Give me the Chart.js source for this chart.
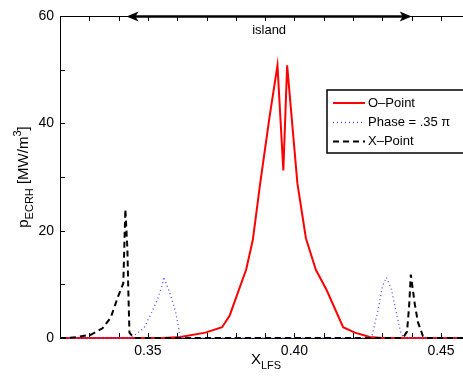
<!DOCTYPE html>
<html>
<head>
<meta charset="utf-8">
<script src="https://cdn.jsdelivr.net/npm/chart.js@4/dist/chart.umd.min.js"></script>
<style>
  html, body { margin: 0; padding: 0; background: #fff; }
  #wrap { width: 463px; height: 380px; position: relative; }
</style>
</head>
<body>
<div id="wrap"><canvas id="chart" width="463" height="380"></canvas></div>
<script>
// O-Point (red solid)
const oPointX = [0.320, 0.355, 0.3611, 0.3696, 0.3753, 0.3779, 0.3806, 0.3835, 0.3858, 0.3883, 0.3915, 0.3942, 0.3962, 0.3975, 0.4010, 0.4039, 0.4073, 0.4110, 0.4166, 0.4206, 0.4257, 0.4300, 0.4575];
const oPointY = [0, 0, 0.2, 1.0, 2.0, 4.2, 8.3, 12.7, 18.3, 28.8, 41.2, 50.8, 31.2, 50.8, 28.8, 18.6, 12.7, 8.9, 2.0, 1.0, 0.2, 0, 0];

// Phase = .35 pi (blue dotted)
const phaseX = [0.320, 0.3441, 0.3486, 0.3509, 0.3532, 0.3549, 0.3554, 0.3575, 0.3594, 0.3605, 0.3611, 0.4263, 0.4285, 0.4300, 0.4314, 0.4331, 0.4348, 0.4362, 0.4371, 0.4575];
const phaseY = [0, 0, 1.8, 4.3, 7.1, 9.9, 11.4, 8.3, 5.0, 1.8, 0, 0, 5.2, 9.6, 11.3, 9.0, 4.6, 1.2, 0, 0];

// X-Point (black dashed)
const xPointX = [0.320, 0.323, 0.3260, 0.3305, 0.3345, 0.3373, 0.3398, 0.3416, 0.3423, 0.3430, 0.3433, 0.3437, 0.3452, 0.4370, 0.4384, 0.4391, 0.4397, 0.4410, 0.4421, 0.4438, 0.4455, 0.4575];
const xPointY = [0, 0, 0.2, 0.6, 1.8, 3.8, 7.7, 10.2, 24.0, 16.5, 9.0, 1.0, 0, 0, 1.2, 5.8, 11.8, 6.5, 3.0, 0.4, 0, 0];

const xTickLabels = ['0.35', '0.40', '0.45'];
const yTickLabels = ['0', '20', '40', '60'];
const seriesNames = ['O\u2013Point', 'Phase = .35 \u03c0', 'X\u2013Point'];
const islandRange = [0.3427, 0.4400];
const islandLabel = 'island';

const FONT = '"Liberation Sans", Arial, Helvetica, sans-serif';

function pts(xs, ys) {
  return xs.map((x, i) => ({ x: x, y: ys[i] }));
}

const styles = [
  { color: '#ff0000', width: 2, dash: [] },
  { color: '#4b4bff', width: 1.3, dash: [1, 3] },
  { color: '#000000', width: 2, dash: [6, 4] }
];

// axes frame and inward ticks, under the lines
const frame = {
  id: 'frame',
  beforeDatasetsDraw(chart) {
    const ctx = chart.ctx;
    const a = chart.chartArea;
    const xs = chart.scales.x;
    const ys = chart.scales.y;
    ctx.save();
    ctx.strokeStyle = '#000';
    ctx.lineWidth = 1;
    ctx.beginPath();
    ctx.moveTo(a.left + 0.5, a.bottom + 0.5);
    ctx.lineTo(a.left + 0.5, a.top + 0.5);
    ctx.lineTo(a.right + 2, a.top + 0.5);
    ctx.moveTo(a.left, a.bottom + 0.5);
    ctx.lineTo(a.right + 2, a.bottom + 0.5);
    ctx.stroke();

    ctx.beginPath();
    ys.ticks.forEach(t => {
      const y = Math.round(ys.getPixelForValue(t.value)) + 0.5;
      ctx.moveTo(a.left, y);
      ctx.lineTo(a.left + 5, y);
    });
    xs.ticks.forEach(t => {
      const r = Math.round(t.value * 100);
      if (Math.abs(t.value * 100 - r) > 1e-6) return;
      const x = Math.round(xs.getPixelForValue(t.value)) + 0.5;
      ctx.moveTo(x, a.bottom);
      ctx.lineTo(x, a.bottom - 5);
      ctx.moveTo(x, a.top);
      ctx.lineTo(x, a.top + 5);
    });
    ctx.stroke();
    ctx.restore();
  }
};

// arrow, legend and axis titles
const decor = {
  id: 'decor',
  afterDraw(chart) {
    const ctx = chart.ctx;
    const a = chart.chartArea;
    const xs = chart.scales.x;
    const ys = chart.scales.y;
    ctx.save();
    ctx.strokeStyle = '#000';
    ctx.setLineDash([]);

    // island arrow
    const x1 = xs.getPixelForValue(islandRange[0]);
    const x2 = xs.getPixelForValue(islandRange[1]);
    const yA = ys.getPixelForValue(60) + 0.5;
    ctx.lineWidth = 2.5;
    ctx.beginPath();
    ctx.moveTo(x1 + 6, yA);
    ctx.lineTo(x2 - 6, yA);
    ctx.stroke();
    ctx.fillStyle = '#000';
    ctx.beginPath();
    ctx.moveTo(x1, yA);
    ctx.lineTo(x1 + 12, yA - 5);
    ctx.lineTo(x1 + 9, yA);
    ctx.lineTo(x1 + 12, yA + 5);
    ctx.closePath();
    ctx.moveTo(x2, yA);
    ctx.lineTo(x2 - 12, yA - 5);
    ctx.lineTo(x2 - 9, yA);
    ctx.lineTo(x2 - 12, yA + 5);
    ctx.closePath();
    ctx.fill();
    ctx.font = '13px ' + FONT;
    ctx.textAlign = 'center';
    ctx.textBaseline = 'middle';
    ctx.fillText(islandLabel, (x1 + x2) / 2, yA + 14);

    // legend
    ctx.lineWidth = 1.5;
    ctx.fillStyle = '#fff';
    ctx.fillRect(327, 90, 150, 63);
    ctx.strokeStyle = '#000';
    ctx.strokeRect(327, 90, 150, 63);
    const rows = [103, 122.5, 141.5];
    ctx.font = '13px ' + FONT;
    ctx.textAlign = 'left';
    seriesNames.forEach((name, i) => {
      const s = styles[i];
      ctx.strokeStyle = s.color;
      ctx.lineWidth = s.width;
      ctx.setLineDash(s.dash);
      ctx.beginPath();
      ctx.moveTo(333, rows[i]);
      ctx.lineTo(365, rows[i]);
      ctx.stroke();
      ctx.fillStyle = '#000';
      ctx.fillText(name, 368, rows[i]);
    });
    ctx.setLineDash([]);

    // x title: X_LFS
    ctx.fillStyle = '#000';
    ctx.textAlign = 'left';
    ctx.textBaseline = 'alphabetic';
    ctx.font = '15px ' + FONT;
    const wX = ctx.measureText('X').width;
    ctx.font = '11px ' + FONT;
    const wSub = ctx.measureText('LFS').width;
    const sx = 266 - (wX + wSub) / 2;
    ctx.font = '15px ' + FONT;
    ctx.fillText('X', sx, 364);
    ctx.font = '11px ' + FONT;
    ctx.fillText('LFS', sx + wX, 369);

    // y title: p_ECRH [MW/m^3]
    ctx.translate(28, (a.top + a.bottom) / 2);
    ctx.rotate(-Math.PI / 2);
    const parts = [
      { t: 'p', f: 15, dy: 0 },
      { t: 'ECRH', f: 11, dy: 5 },
      { t: ' [MW/m', f: 15, dy: 0 },
      { t: '3', f: 11, dy: -7 },
      { t: ']', f: 15, dy: 0 }
    ];
    let total = 0;
    parts.forEach(p => { ctx.font = p.f + 'px ' + FONT; p.w = ctx.measureText(p.t).width; total += p.w; });
    let px = -total / 2;
    parts.forEach(p => {
      ctx.font = p.f + 'px ' + FONT;
      ctx.fillText(p.t, px, p.dy);
      px += p.w;
    });
    ctx.restore();
  }
};

new Chart(document.getElementById('chart'), {
  type: 'scatter',
  data: {
    datasets: [
      { label: seriesNames[0], data: pts(oPointX, oPointY), order: 2 },
      { label: seriesNames[1], data: pts(phaseX, phaseY), order: 1 },
      { label: seriesNames[2], data: pts(xPointX, xPointY), order: 0 }
    ].map((d, i) => Object.assign(d, {
      showLine: true,
      borderColor: styles[i].color,
      borderWidth: styles[i].width,
      borderDash: styles[i].dash,
      pointRadius: 0,
      tension: 0,
      fill: false,
      clip: 4
    }))
  },
  options: {
    responsive: false,
    animation: false,
    layout: { padding: { top: 16, right: 0, left: 0, bottom: 0 } },
    plugins: { legend: { display: false }, tooltip: { enabled: false } },
    scales: {
      x: {
        type: 'linear',
        min: 0.32,
        max: 0.4575,
        grid: { display: false, drawTicks: false },
        border: { display: false },
        afterFit: s => { s.height = 42; },
        ticks: {
          stepSize: 0.01,
          includeBounds: false,
          autoSkip: false,
          maxRotation: 0,
          padding: 5,
          color: '#000',
          font: { family: FONT, size: 14 },
          callback: v => {
            const lbl = (Math.round(v * 100) / 100).toFixed(2);
            return Math.abs(v * 100 - Math.round(v * 100)) < 1e-6 && xTickLabels.includes(lbl) ? lbl : '';
          }
        }
      },
      y: {
        min: 0,
        max: 60,
        grid: { display: false, drawTicks: false },
        border: { display: false },
        afterFit: s => { s.width = 60; },
        ticks: {
          stepSize: 10,
          padding: 6,
          color: '#000',
          font: { family: FONT, size: 14 },
          callback: v => yTickLabels.includes(String(v)) ? String(v) : ''
        }
      }
    }
  },
  plugins: [frame, decor]
});
</script>
</body>
</html>
